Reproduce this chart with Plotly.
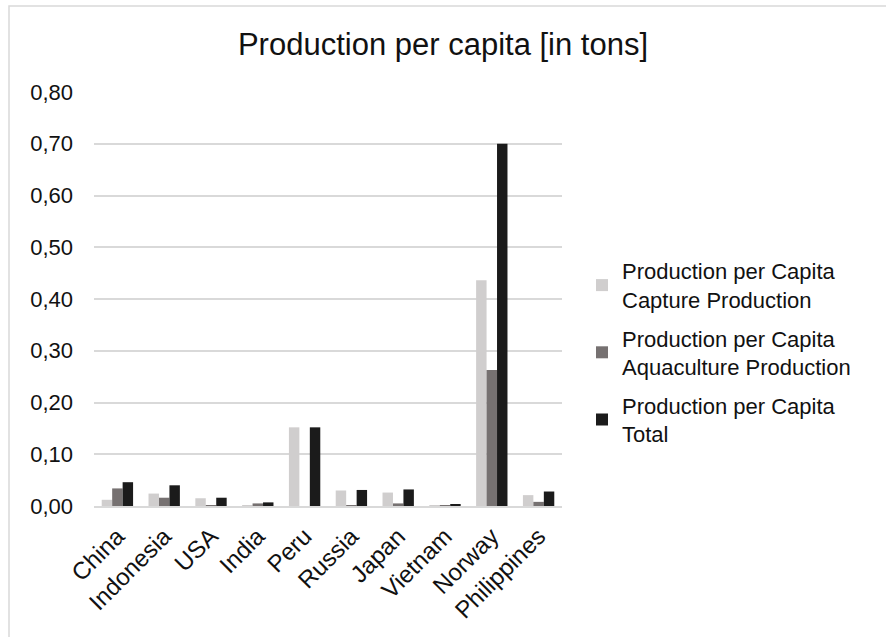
import plotly.graph_objects as go

countries = ["China", "Indonesia", "USA", "India", "Peru", "Russia",
             "Japan", "Vietnam", "Norway", "Philippines"]
capture = [0.012, 0.024, 0.015, 0.001, 0.152, 0.030, 0.026, 0.001, 0.436, 0.021]
aquaculture = [0.034, 0.016, 0.001, 0.005, 0.000, 0.001, 0.005, 0.001, 0.263, 0.008]
total = [0.046, 0.040, 0.016, 0.007, 0.152, 0.031, 0.032, 0.002, 0.700, 0.028]

series_names = [
    "Production per Capita<br>Capture Production",
    "Production per Capita<br>Aquaculture Production",
    "Production per Capita<br>Total",
]
series_values = [capture, aquaculture, total]
series_colors = ["#D0CECE", "#767171", "#1B1B1B"]

y_ticks = [0.0, 0.1, 0.2, 0.3, 0.4, 0.5, 0.6, 0.7, 0.8]

W, H = 886, 637
L, R, T, B = 94, 324, 92, 131

fig = go.Figure()
for i, (name, vals, col) in enumerate(zip(series_names, series_values, series_colors)):
    fig.add_trace(go.Bar(
        x=countries, y=vals, name=name, marker_color=col,
        marker_line_width=0, legendgroup=f"g{i}",
    ))

font_family = "Liberation Sans, Arial, sans-serif"

fig.update_layout(
    width=W, height=H,
    margin=dict(l=L, r=R, t=T, b=B, autoexpand=False),
    paper_bgcolor="white", plot_bgcolor="white",
    font=dict(family=font_family, color="#111111", size=22),
    separators=",.",
    barmode="group", bargap=0.33, bargroupgap=0,
    title=dict(
        text="Production per capita [in tons]",
        font=dict(size=31, color="#111111"),
        x=0.5, xref="container", xanchor="center",
        y=1 - 44 / H, yref="container", yanchor="middle",
    ),
    legend=dict(
        x=(582 - L) / (W - L - R), xanchor="left",
        y=(506 - 250) / (H - T - B), yanchor="top",
        font=dict(size=22, color="#111111"),
        tracegroupgap=7,
        bgcolor="rgba(0,0,0,0)",
    ),
    showlegend=True,
)

fig.update_xaxes(
    type="category", tickangle=-45, showgrid=False,
    showline=True, linecolor="#D9D9D9", linewidth=1.5,
    ticks="", ticklabelstandoff=5,
    tickfont=dict(size=24),
)
fig.update_yaxes(
    range=[0, 0.8], tickvals=y_ticks, tickformat=".2f",
    showgrid=True, gridcolor="#D9D9D9", gridwidth=1.5,
    zeroline=False, showline=False, ticks="",
    ticklabelstandoff=20, tickfont=dict(size=22),
)

# chart-area border
fig.add_shape(
    type="rect", xref="paper", yref="paper",
    x0=(9 - L) / (W - L - R), x1=(W + 20 - L) / (W - L - R),
    y0=-(B + 20) / (H - T - B), y1=1 + (T - 6) / (H - T - B),
    line=dict(color="#D9D9D9", width=1.5), fillcolor="rgba(0,0,0,0)",
    layer="below",
)

fig.write_html("out.html")
